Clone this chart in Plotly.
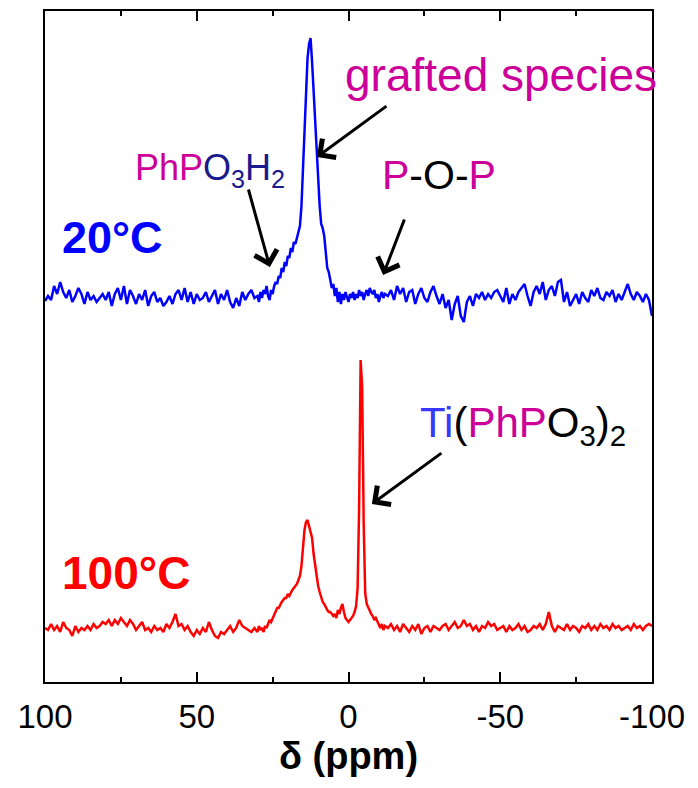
import plotly.graph_objects as go

# chemical shift grid (ppm): 1 ppm steps on the baselines, 0.5 ppm around the peaks
ppm = ([float(p) for p in range(100, 30, -1)]
       + [30 - 0.5 * i for i in range(85)]
       + [float(p) for p in range(-13, -101, -1)])

# 20 C spectrum, intensity above its own baseline
i_20C = [
    -3, 2, -2, 12, 4, 16, 6, 0, 8, -4, 2, 10, 4, -6, 6, -2, 2, -4, 0, 4,
    -2, 6, -8, 4, 10, -2, 12, -6, 8, 2, -6, 4, -2, 8, -8, 2, 6, -4, 0, -8,
    -4, 2, -6, 4, 8, -2, 10, -4, 6, -6, 4, -2, 0, 6, -4, 2, 8, -6, 4, -2,
    8, -4, -10, 0, -8, 6, -2, 4, 8, 0,
    2, -4, 6, 0, 8, 4, 12, 2, -2, 8, 4, 12, 16, 14, 22, 20, 30, 26, 36, 32,
    42, 40, 50, 46, 56, 54, 60, 64, 72, 92, 130, 170, 212, 240, 254, 260, 236, 205, 175, 148,
    122, 92, 74, 70, 62, 42, 30, 26, 18, 10, 14, 2, 10, -4, 6, -6, 4, -2, 6, 2,
    -4, 4, 0, 6, -2, 4, 0, 8, 2, 6, -2, 4, 8, 2, 10, 6, 4, 8, 0, 4,
    -4, 2, 6, 0, 4,
    2, 8, -2, 12, 4, 10, -4, 6, 8, -6, 4, 10, 0, -4, 6, 12, 2, -6, 4, -10,
    -2, -22, -6, 2, -18, -24, -4, 2, -8, 4, 0, 6, -2, 4, 0, 6, 8, 2, -4, 10,
    -6, 4, -2, 6, 10, 14, 2, -8, 6, 12, 4, 16, -2, 8, 12, 2, 16, 18, -4, 6,
    -8, -2, 4, -6, 6, 0, -4, 8, 2, 10, 0, -2, 6, 2, 8, -4, 4, -2, 6, 14,
    4, -2, 6, 2, -4, 4, -2, -18,
]

# 100 C spectrum, intensity above its own baseline
i_100C = [
    0, -2, 4, -2, 2, -4, 6, 0, -2, -8, 2, -4, 0, -2, 2, -2, 4, 0, 2, 6,
    4, 8, 2, 8, 4, 10, 6, 2, 8, 4, -2, 2, 6, -2, 0, -4, 2, -2, 0, -4,
    4, 0, 6, 14, 2, 4, -2, 2, -4, -8, -2, -6, 0, -4, 6, -2, -8, -10, -4, -6,
    -2, 2, -4, 0, 8, 2, 0, -2, -4, 0,
    -4, 2, -2, 0, -4, 2, 0, 4, 8, 6, 10, 12, 16, 20, 20, 24, 26, 28, 30, 30,
    34, 32, 36, 38, 40, 42, 44, 48, 52, 62, 80, 98, 106, 108, 102, 96, 90, 74, 62, 52,
    42, 36, 30, 26, 24, 20, 18, 16, 16, 14, 12, 14, 10, 18, 14, 20, 24, 16, 10, 8,
    6, 8, 10, 12, 16, 22, 40, 120, 268, 240, 105, 35, 24, 20, 18, 14, 12, 8, 10, 6,
    4, 0, 4, -2, 2,
    0, 4, -2, 2, -4, 4, 0, -4, 2, -2, 4, -6, 0, 2, -4, 2, 0, -2, 2, 4,
    -2, 2, 6, 0, 2, 8, 2, 4, -2, 2, -4, 2, 0, 6, 2, 4, -2, 0, 2, -4,
    2, -2, 0, 4, -2, 2, -4, -2, 2, 0, 4, -2, 4, 16, 2, -4, 2, 0, -2, 4,
    -2, 2, 0, -4, 2, 0, 4, -2, 2, -2, 4, 0, 2, -2, 4, 0, 2, -2, 0, 2,
    -2, 4, 0, 2, -2, 2, 4, 2,
]

TICKS = [100, 50, 0, -50, -100]
TICK_LABELS = ["100", "50", "0", "-50", "-100"]

OFFSET_20C = 330
MAGENTA = "#CC0099"
NAVY = "#1A1A8C"
TI_BLUE = "#3838FF"

fig = go.Figure([
    go.Scatter(x=ppm, y=[v + OFFSET_20C for v in i_20C], mode="lines",
               line=dict(color="#0000FF", width=2.5), showlegend=False),
    go.Scatter(x=ppm, y=i_100C, mode="lines",
               line=dict(color="#FF0000", width=2.5), showlegend=False),
])

font = "Liberation Sans, Arial, sans-serif"

fig.update_layout(
    width=698, height=788,
    margin=dict(l=45, r=46, t=11, b=106),
    plot_bgcolor="white", paper_bgcolor="white",
    font=dict(family=font, color="black"),
    xaxis=dict(range=[100, -100], tickvals=TICKS, ticktext=TICK_LABELS,
               ticks="inside", ticklen=10, tickwidth=2, tickcolor="black",
               minor=dict(tickvals=[75, 25, -25, -75], ticks="inside", ticklen=5,
                          tickwidth=2, tickcolor="black"),
               showline=True, linewidth=2, linecolor="black", mirror="ticks",
               showgrid=False, zeroline=False, automargin=False,
               tickfont=dict(family=font, size=33), ticklabelstandoff=4,
               title=dict(text="<b>δ (ppm)</b>", font=dict(family=font, size=38),
                          standoff=6)),
    yaxis=dict(range=[-54, 617], showticklabels=False, ticks="",
               showline=True, linewidth=2, linecolor="black", mirror=True,
               showgrid=False, zeroline=False, automargin=False),
)

# labels
labels = [
    (95.1, 391, "<b>20°C</b>", "#0000FF", 45),
    (95.1, 55, "<b>100°C</b>", "#FF0000", 46),
    (1.8, 553, "grafted species", MAGENTA, 46),
    (71.0, 458, f"<span style='color:{MAGENTA}'>PhP</span>O<sub>3</sub>H<sub>2</sub>", NAVY, 36),
    (-10.4, 453, f"<span style='color:{MAGENTA}'>P</span>-O-<span style='color:{MAGENTA}'>P</span>", "black", 41),
    (-22.9, 203, f"<span style='color:{TI_BLUE}'>Ti</span>(<span style='color:{MAGENTA}'>PhP</span>O<sub>3</sub>)<sub>2</sub>", "black", 42),
]
for x, y, txt, col, size in labels:
    fig.add_annotation(x=x, y=y, text=txt, showarrow=False, xanchor="left", yanchor="middle",
                       font=dict(family=font, size=size, color=col))

# arrows: (head x, head y, tail x, tail y)
arrows = [
    (10.4, 471, -13.0, 523),
    (25.9, 361, 33.1, 440),
    (-11.4, 353, -18.6, 410),
    (-7.7, 124, -31.1, 176),
]
for hx, hy, tx, ty in arrows:
    fig.add_annotation(x=hx, y=hy, ax=tx, ay=ty, axref="x", ayref="y", text="",
                       showarrow=True, arrowhead=4, arrowsize=1.5, arrowwidth=3,
                       arrowcolor="black")

# page body margin off so the figure sits at the window's top-left corner
fig.write_html("out.html", config={"displayModeBar": False},
               post_script="document.body.style.margin='0';")
